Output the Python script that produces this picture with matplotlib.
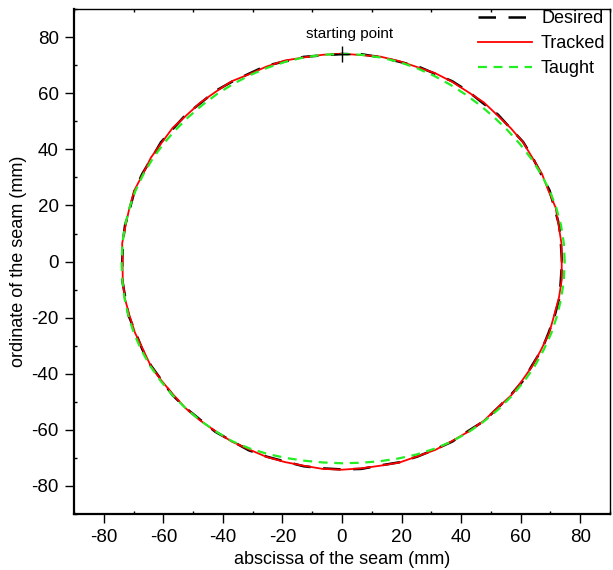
import numpy as np
import matplotlib
matplotlib.use("Agg")
import matplotlib.pyplot as plt
from matplotlib.ticker import MultipleLocator

plt.rcParams['font.family'] = ['Liberation Sans', 'DejaVu Sans']
plt.rcParams['axes.unicode_minus'] = False

# polar samples (angle in degrees, radius in mm)
angles = [0, 5, 10, 15, 20, 25, 30, 35, 40, 45, 50, 55,
          60, 65, 70, 75, 80, 85, 90, 95, 100, 105, 110, 115,
          120, 125, 130, 135, 140, 145, 150, 155, 160, 165, 170, 175,
          180, 185, 190, 195, 200, 205, 210, 215, 220, 225, 230, 235,
          240, 245, 250, 255, 260, 265, 270, 275, 280, 285, 290, 295,
          300, 305, 310, 315, 320, 325, 330, 335, 340, 345, 350, 355, 360]

desired_r = [73.9, 73.8, 74.1, 73.9, 74.2, 73.8, 74.0, 74.3, 73.9, 74.1, 73.7, 74.0,
             74.2, 73.9, 74.1, 73.8, 74.0, 74.2, 74.0, 73.8, 74.1, 73.9, 74.3, 73.9,
             74.0, 74.2, 73.8, 74.1, 73.9, 74.2, 73.8, 74.0, 74.1, 73.7, 74.0, 73.9,
             73.8, 74.1, 73.9, 74.2, 73.8, 74.0, 74.1, 73.9, 74.2, 74.0, 73.8, 74.1,
             73.9, 74.2, 74.0, 73.8, 74.1, 74.0, 74.1, 74.2, 73.8, 74.1, 74.0, 73.9,
             74.1, 73.8, 74.2, 73.9, 74.0, 74.2, 73.8, 74.1, 73.9, 74.0, 74.2, 73.8, 73.9]

tracked_r = [73.8, 74.0, 73.9, 74.3, 73.8, 74.1, 73.9, 74.2, 74.0, 73.8, 74.1, 73.8,
             74.0, 74.1, 73.8, 74.0, 74.2, 73.9, 74.1, 74.0, 73.9, 74.2, 74.0, 73.7,
             74.2, 73.9, 74.0, 73.8, 74.2, 73.9, 74.1, 73.8, 74.2, 73.9, 73.8, 74.1,
             73.7, 73.9, 74.1, 73.9, 74.0, 73.8, 74.2, 74.0, 73.9, 74.1, 74.0, 73.9,
             74.1, 73.9, 74.1, 74.0, 73.9, 74.2, 74.2, 74.0, 73.9, 74.2, 73.9, 74.1,
             73.9, 74.0, 74.1, 73.8, 74.2, 73.9, 74.0, 73.9, 74.1, 73.8, 74.0, 74.1, 73.8]

taught_r = [74.8, 74.8, 74.7, 74.5, 74.2, 73.8, 73.4, 73.0, 72.7, 72.5, 72.5, 72.6,
            72.8, 73.1, 73.4, 73.7, 73.9, 74.0, 74.0, 74.0, 73.9, 73.7, 73.5, 73.3,
            73.1, 73.0, 72.9, 72.9, 73.0, 73.2, 73.4, 73.6, 73.8, 73.9, 74.0, 74.0,
            74.0, 74.1, 74.2, 74.3, 74.4, 74.4, 74.4, 74.3, 74.2, 74.1, 74.0, 73.9,
            73.9, 73.5, 73.0, 72.5, 72.1, 71.9, 71.9, 72.0, 72.3, 72.7, 73.2, 73.6,
            74.0, 74.2, 74.3, 74.4, 74.5, 74.6, 74.7, 74.7, 74.8, 74.8, 74.8, 74.8, 74.8]

start_point = (0, 74)


def to_xy(r):
    t = np.radians(angles)
    return np.array(r) * np.cos(t), np.array(r) * np.sin(t)


fig = plt.figure(figsize=(6.13, 5.70), dpi=100)
ax = fig.add_axes([0.1207, 0.0982, 0.8743, 0.8858])

x, y = to_xy(desired_r)
ax.plot(x, y, color='black', lw=1.8, dashes=(7, 5), label='Desired')
x, y = to_xy(tracked_r)
ax.plot(x, y, color='red', lw=1.3, label='Tracked')
x, y = to_xy(taught_r)
ax.plot(x, y, color='#22ee22', lw=1.6, dashes=(4, 3), label='Taught')

ax.plot(*start_point, marker='+', color='black', ms=12, mew=1.0)
ax.text(start_point[0] + 2.7, start_point[1] + 4.5, 'starting point',
        ha='center', va='bottom', fontsize=11)

ax.set_xlim(-90, 90)
ax.set_ylim(-90, 90)
ax.xaxis.set_minor_locator(MultipleLocator(10))
ax.yaxis.set_minor_locator(MultipleLocator(10))
ax.set_xticks([-80, -60, -40, -20, 0, 20, 40, 60, 80])
ax.set_yticks([-80, -60, -40, -20, 0, 20, 40, 60, 80])

ax.tick_params(which='major', length=6.5, width=1.0, labelsize=13.5,
               direction='out', pad=4.5)
ax.tick_params(which='minor', length=3.5, width=1.0, direction='out')
ax.tick_params(which='minor', top=True, direction='in', length=2.5)
for side in ['left', 'bottom']:
    ax.spines[side].set_linewidth(1.6)
for side in ['top', 'right']:
    ax.spines[side].set_linewidth(1.0)

ax.set_xlabel('abscissa of the seam (mm)', fontsize=13, labelpad=3.5)
ax.set_ylabel('ordinate of the seam (mm)', fontsize=13, labelpad=3)

ax.legend(loc='upper right', bbox_to_anchor=(1.012, 1.02), frameon=False,
          fontsize=13, handlelength=3.0, handletextpad=0.5,
          labelspacing=0.45, borderaxespad=0.2)

fig.savefig('out.png', dpi=100)
